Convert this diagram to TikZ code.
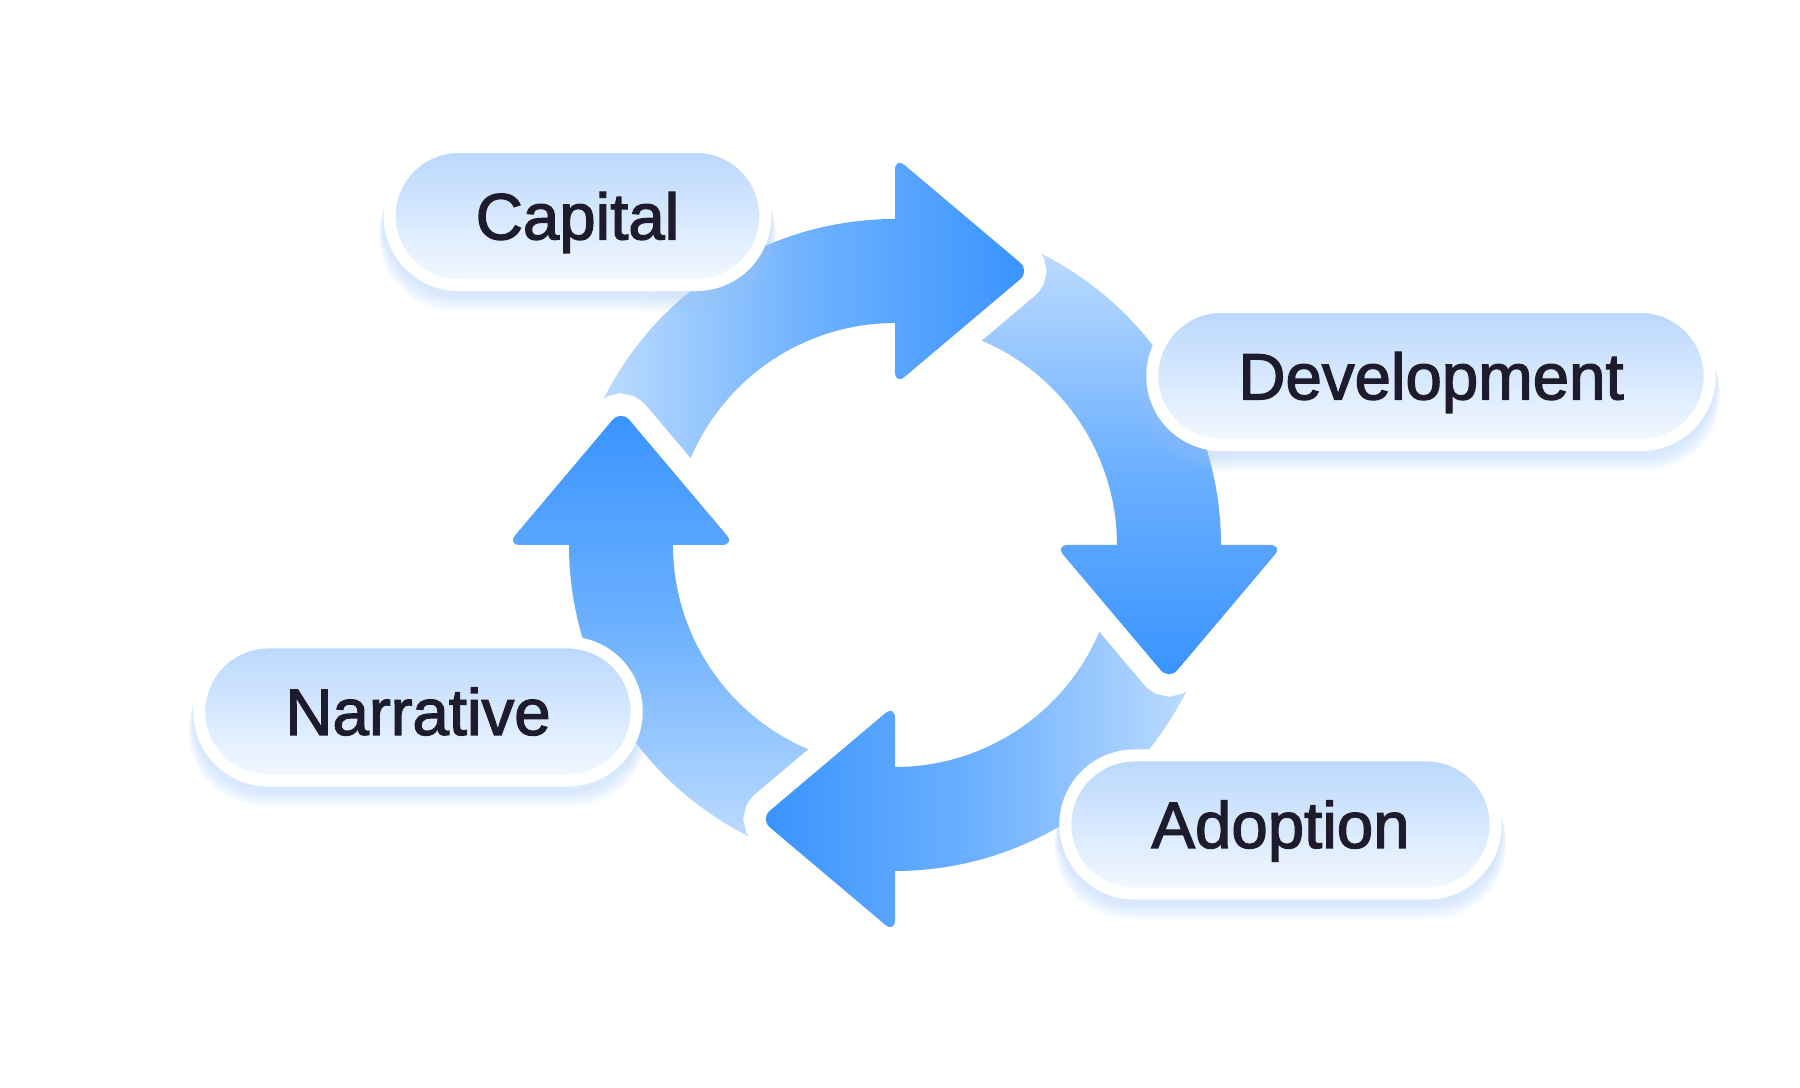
\documentclass[tikz,border=0pt]{standalone}
\usepackage{fontspec}
\newfontfamily\stagefont{Liberation Sans}[FakeBold=2]
\usepackage{tikz}

\definecolor{arrowdark}{HTML}{3893FF}
\definecolor{arrowmid}{HTML}{6CB0FF}
\definecolor{arrowlight}{HTML}{BCDBFF}
\definecolor{pilltop}{HTML}{B8D7FD}
\definecolor{pillbottom}{HTML}{F5F9FF}
\definecolor{glowblue}{HTML}{9CC5FB}
\definecolor{labeltext}{HTML}{1E1B2C}

\pgfdeclarelayer{ring}
\pgfdeclarelayer{glow}
\pgfsetlayers{ring,glow,main}

\tikzset{
  cyclearrow/.style={preaction={draw=white, line width=0.44cm},
    top color=arrowdark, bottom color=arrowlight, middle color=arrowmid},
  stage/.style={draw=white, line width=0.12cm, rounded corners=0.69cm,
    top color=pilltop, bottom color=pillbottom,
    minimum height=1.38cm, inner xsep=0.86cm, inner ysep=0pt,
    text height=13.3pt, text depth=0pt, text=labeltext,
    font=\stagefont\fontsize{18.6pt}{22pt}\selectfont}
}

% one quarter of the ring with its head, turned by #1
\newcommand{\arrowpath}[1]{(#1+154:326) arc[start angle=#1+154, end angle=#1+90, radius=326]
  [rounded corners=0.13cm] -- (#1+90:388) -- (#1+63.77:305.5) -- (#1+90:160)
  [sharp corners] -- (#1+90:222) arc[start angle=#1+90, end angle=#1+160, radius=222] -- cycle}

\begin{document}
\begin{tikzpicture}[x=0.01cm, y=0.01cm]
\useasboundingbox (-895,-543) rectangle (905,545);

\begin{pgfonlayer}{ring}
\foreach \k in {3,2,1,0}{
  \pgfmathsetmacro\a{-90*\k}
  \pgfmathsetmacro\s{-90-90*\k}
  \shade[cyclearrow, shading angle=\s] \arrowpath{\a};
}
% head of the left arrow again, over the tail of the top one
\begin{scope}
\clip (-420,-2) rectangle (-110,175);
\shade[cyclearrow, shading angle=-360] \arrowpath{-270};
\end{scope}
\end{pgfonlayer}

\node[stage] (capital) at (-317.5,329) {Capital};
\node[stage] (development) at (536,169) {Development};
\node[stage] (narrative) at (-477,-166.5) {Narrative};
\node[stage] (adoption) at (385.5,-279.5) {Adoption};

\begin{pgfonlayer}{glow}
\foreach \n in {capital,development,narrative,adoption}
  \foreach \g in {1,...,8}{
    \pgfmathsetmacro\d{4+2*\g}
    \fill[glowblue, opacity=0.06, rounded corners=0.75cm]
      ([shift={(-0.6*\g,-\d)}]\n.south west) rectangle ([shift={(0.6*\g,-\d)}]\n.north east);
  }
\end{pgfonlayer}

\end{tikzpicture}
\end{document}
